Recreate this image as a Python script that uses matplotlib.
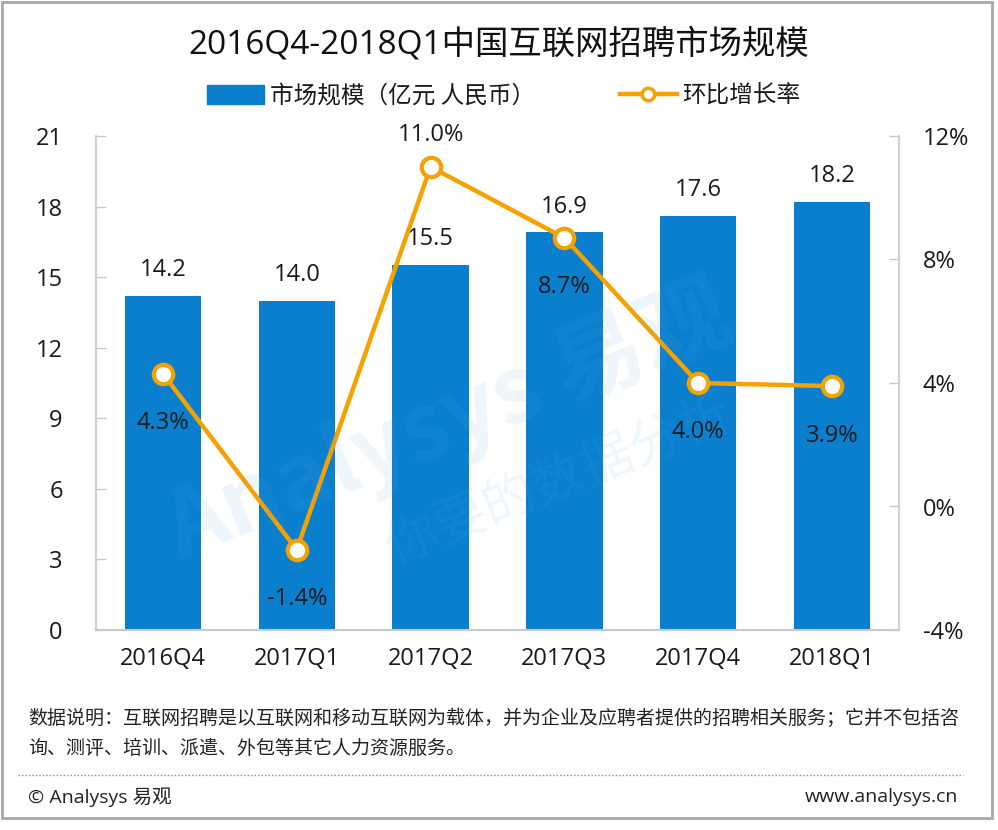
import matplotlib
matplotlib.use("Agg")
import matplotlib.pyplot as plt
from matplotlib.patches import Rectangle, Patch
from matplotlib.lines import Line2D

plt.rcParams['font.family'] = ['Open Sans', 'Noto Sans CJK SC', 'DejaVu Sans']
CJK = ['Noto Sans CJK SC', 'DejaVu Sans']

categories = ["2016Q4", "2017Q1", "2017Q2", "2017Q3", "2017Q4", "2018Q1"]
market_size = [14.2, 14.0, 15.5, 16.9, 17.6, 18.2]
growth = [4.3, -1.4, 11.0, 8.7, 4.0, 3.9]
left_ticks = [0, 3, 6, 9, 12, 15, 18, 21]
right_ticks = [-4, 0, 4, 8, 12]
growth_label_pos = ["below", "below", "above", "below", "below", "below"]

BLUE = "#0A7FCE"
ORANGE = "#F5A100"
TXT = "#1a1a1a"
W, H = 998, 830

fig = plt.figure(figsize=(W / 100, H / 100), dpi=100)
ax = fig.add_axes([96 / W, 1 - 630 / H, (899 - 96) / W, (630 - 136) / H])
x = list(range(len(categories)))
ax.bar(x, market_size, width=0.57, color=BLUE, zorder=2)
ax.set_xlim(-0.5, len(categories) - 0.5)
ax.set_ylim(0, 21)
ax.set_yticks(left_ticks)
ax.set_yticklabels([str(t) for t in left_ticks])
ax.set_xticks(x)
ax.set_xticklabels(categories)
ax.tick_params(axis='y', direction='in', length=7, width=1, color="#C8C8C8", pad=24,
               labelsize=17, labelcolor=TXT)
ax.tick_params(axis='x', length=0, pad=12, labelsize=17, labelcolor=TXT)
for s in ["top", "right"]:
    ax.spines[s].set_visible(False)
ax.spines["left"].set_color("#D0D0D0")
ax.spines["bottom"].set_color("#C8C8C8")
ax.spines["left"].set_linewidth(1.5)
ax.spines["bottom"].set_linewidth(1.5)

for xi, v in zip(x, market_size):
    ax.annotate(f"{v:.1f}", (xi, v), xytext=(0, 10), textcoords="offset points",
                ha="center", va="bottom", fontsize=17, color=TXT, zorder=5)

ax2 = ax.twinx()
ax2.set_ylim(-4, 12)
ax2.set_yticks(right_ticks)
ax2.set_yticklabels([f"{t}%" for t in right_ticks])
ax2.tick_params(axis='y', direction='in', length=7, width=1, color="#C8C8C8", pad=17,
                labelsize=17, labelcolor=TXT)
for s in ["top", "left", "bottom"]:
    ax2.spines[s].set_visible(False)
ax2.spines["right"].set_color("#D0D0D0")
ax2.spines["right"].set_linewidth(1.5)
ax2.plot(x, growth, color=ORANGE, lw=3.2, marker="o", ms=14, mfc="white",
         mec=ORANGE, mew=3, zorder=4)
for xi, v, pos in zip(x, growth, growth_label_pos):
    if pos == "above":
        ax2.annotate(f"{v:.1f}%", (xi, v), xytext=(0, 14), textcoords="offset points",
                     ha="center", va="bottom", fontsize=17, color=TXT)
    else:
        ax2.annotate(f"{v:.1f}%", (xi, v), xytext=(0, -27), textcoords="offset points",
                     ha="center", va="top", fontsize=17, color=TXT)

# faint watermark
fig.text(0.45, 0.49, "Analysys 易观", fontsize=66, color="#5AA8E6", alpha=0.10,
         rotation=22, ha="center", va="center", fontweight="bold", family=CJK)
fig.text(0.56, 0.42, "你要的数据分析", fontsize=38, color="#5AA8E6", alpha=0.10,
         rotation=22, ha="center", va="center", family=CJK)

fig.text(0.5, 1 - 45 / H, "2016Q4-2018Q1中国互联网招聘市场规模", fontsize=24,
         ha="center", va="center", color="#111111")

handles = [Patch(facecolor=BLUE, edgecolor=BLUE),
           Line2D([0], [0], color=ORANGE, lw=3.2, marker="o", ms=9, mfc="white",
                  mec=ORANGE, mew=2.5)]
fig.legend(handles, ["市场规模（亿元 人民币）", "环比增长率"], loc="center",
           bbox_to_anchor=(0.505, 1 - 96 / H), ncol=2, frameon=False,
           handlelength=2.4, handleheight=0.9, handletextpad=0.25, columnspacing=3.6,
           labelcolor=TXT, prop={'family': CJK, 'size': 17})

fig.text(28 / W, 1 - 718 / H,
         "数据说明：互联网招聘是以互联网和移动互联网为载体，并为企业及应聘者提供的招聘相关服务；它并不包括咨",
         fontsize=13.7, ha="left", va="center", color="#222222", family=CJK)
fig.text(28 / W, 1 - 748 / H, "询、测评、培训、派遣、外包等其它人力资源服务。",
         fontsize=13.7, ha="left", va="center", color="#222222", family=CJK)
fig.add_artist(Line2D([18 / W, 963 / W], [1 - 775 / H, 1 - 775 / H], color="#888888",
                      lw=1, linestyle=(0, (1, 1.5))))
fig.text(28 / W, 1 - 797 / H, "© Analysys 易观", fontsize=14, ha="left", va="center",
         color="#222222")
fig.text(958 / W, 1 - 797 / H, "www.analysys.cn", fontsize=14, ha="right", va="center",
         color="#222222")

fig.add_artist(Rectangle((2 / W, 12 / H), (W - 8) / W, (H - 14) / H, fill=False,
                         edgecolor="#A8A8A8", lw=2, transform=fig.transFigure))

fig.savefig("out.png", dpi=100, facecolor="white")
